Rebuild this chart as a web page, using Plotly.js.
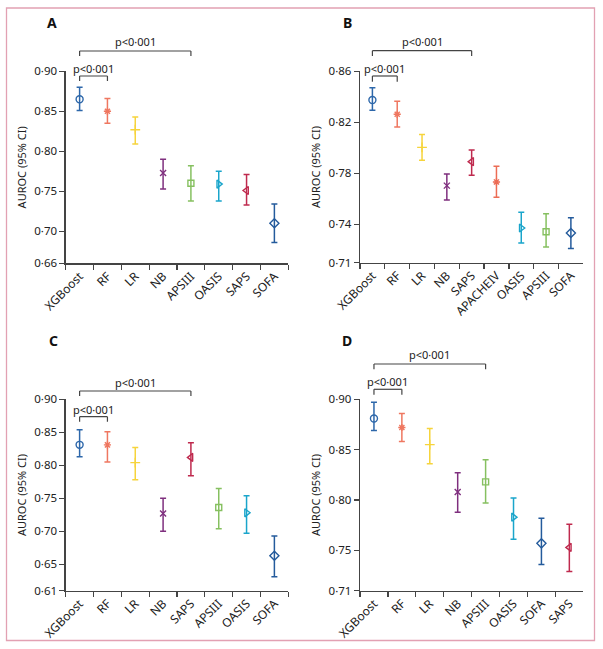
<!DOCTYPE html>
<html><head><meta charset="utf-8">
<script src="https://cdn.plot.ly/plotly-3.0.1.min.js"></script>
<style>html,body{margin:0;padding:0;background:#fff}</style>
</head><body><div id="chart" style="width:603px;height:649px"></div>
<script>
// ---------- DATA ----------
// Panel A
const catsA  = ['XGBoost','RF','LR','NB','APSIII','OASIS','SAPS','SOFA'];
const aucA   = [0.865,0.850,0.827,0.773,0.760,0.759,0.751,0.710];
const lowA   = [0.851,0.835,0.809,0.753,0.738,0.738,0.733,0.686];
const highA  = [0.880,0.866,0.843,0.790,0.782,0.775,0.771,0.734];
const ytickA = [0.66,0.70,0.75,0.80,0.85,0.90];
const compA  = [['XGBoost','RF','p<0·001'],['XGBoost','APSIII','p<0·001']];

// Panel B
const catsB  = ['XGBoost','RF','LR','NB','SAPS','APACHEIV','OASIS','APSIII','SOFA'];
const aucB   = [0.8375,0.8263,0.8004,0.7704,0.7892,0.7733,0.7372,0.7343,0.7333];
const lowB   = [0.8294,0.8164,0.7902,0.7591,0.7785,0.7612,0.7254,0.7223,0.7212];
const highB  = [0.8472,0.8365,0.8104,0.7795,0.7983,0.7855,0.7495,0.7484,0.7453];
const ytickB = [0.71,0.74,0.78,0.82,0.86];
const compB  = [['XGBoost','RF','p<0·001'],['XGBoost','SAPS','p<0·001']];

// Panel C
const catsC  = ['XGBoost','RF','LR','NB','SAPS','APSIII','OASIS','SOFA'];
const aucC   = [0.831,0.831,0.804,0.727,0.812,0.736,0.728,0.663];
const lowC   = [0.813,0.805,0.778,0.700,0.784,0.704,0.697,0.631];
const highC  = [0.854,0.851,0.827,0.750,0.834,0.765,0.754,0.693];
const ytickC = [0.61,0.65,0.70,0.75,0.80,0.85,0.90];
const compC  = [['XGBoost','RF','p<0·001'],['XGBoost','SAPS','p<0·001']];

// Panel D
const catsD  = ['XGBoost','RF','LR','NB','APSIII','OASIS','SOFA','SAPS'];
const aucD   = [0.881,0.872,0.855,0.808,0.818,0.783,0.757,0.753];
const lowD   = [0.869,0.858,0.836,0.788,0.797,0.761,0.736,0.729];
const highD  = [0.897,0.886,0.871,0.827,0.840,0.802,0.782,0.776];
const ytickD = [0.71,0.75,0.80,0.85,0.90];
const compD  = [['XGBoost','RF','p<0·001'],['XGBoost','APSIII','p<0·001']];

// ---------- STYLE ----------
const FONT = 'Noto Sans, Open Sans, DejaVu Sans, sans-serif';
const AX = '#444444';
const modelStyle = {
  XGBoost:  {color:'#2d67aa', symbol:'circle-open',        size:7},
  RF:       {color:'#ef7760', symbol:'asterisk-open',      size:6},
  LR:       {color:'#f6d43c', symbol:'cross-thin-open',    size:7},
  NB:       {color:'#7f2f7e', symbol:'x-thin-open',        size:6},
  APSIII:   {color:'#86c060', symbol:'square-open',        size:6},
  OASIS:    {color:'#1aa5cb', symbol:'triangle-right-open',size:7},
  SAPS:     {color:'#bf2a4e', symbol:'triangle-left-open', size:7},
  SOFA:     {color:'#245b9c', symbol:'diamond-open',       size:7},
  APACHEIV: {color:'#ec6c55', symbol:'asterisk-open',      size:6}
};

const W = 603, H = 649;
const px = v => v / W;
const py = v => 1 - v / H;

const panels = [
  {id:'',  letter:'A', cats:catsA, auc:aucA, low:lowA, high:highA, yt:ytickA, comp:compA,
   box:[65.7,288.3,71.3,263.3], letterPos:[52,23], brk:[[0.9755,0.9495,1.016],[1.1057,1.0797,1.154]]},
  {id:'2', letter:'B', cats:catsB, auc:aucB, low:lowB, high:highB, yt:ytickB, comp:compB,
   box:[360,583.3,71.3,262.7], letterPos:[347,23], brk:[[0.9755,0.9457,1.016],[1.1077,1.08,1.155]]},
  {id:'3', letter:'C', cats:catsC, auc:aucC, low:lowC, high:highC, yt:ytickC, comp:compC,
   box:[65.7,288.3,399.3,590.7], letterPos:[53,340], brk:[[0.909,0.883,0.948],[1.0434,1.017,1.090]]},
  {id:'4', letter:'D', cats:catsD, auc:aucD, low:lowD, high:highD, yt:ytickD, comp:compD,
   box:[360,583.3,399.3,590.7], letterPos:[347,340], brk:[[1.0523,1.024,1.094],[1.1844,1.1567,1.233]]}
];

const fmt = v => v.toFixed(2).replace('.', '·');

const traces = [];
const layout = {
  width: W, height: H,
  margin: {l:0, r:0, t:0, b:0},
  paper_bgcolor: '#ffffff', plot_bgcolor: '#ffffff',
  showlegend: false,
  font: {family: FONT, size: 11, color: '#222222'},
  shapes: [], annotations: []
};

panels.forEach(p => {
  const xa = 'x' + p.id, ya = 'y' + p.id;
  p.cats.forEach((c, i) => {
    const st = modelStyle[c];
    traces.push({
      type: 'scatter', mode: 'markers',
      x: [c], y: [p.auc[i]],
      xaxis: xa, yaxis: ya,
      marker: {color: st.color, symbol: st.symbol, size: st.size, line: {color: st.color, width: 1.4}},
      error_y: {type: 'data', symmetric: false,
                array: [p.high[i] - p.auc[i]], arrayminus: [p.auc[i] - p.low[i]],
                color: st.color, thickness: 1.5, width: 3},
      hoverinfo: 'x+y'
    });
  });
  const [x0, x1, yTop, yBot] = p.box;
  layout['xaxis' + p.id] = {
    domain: [px(x0), px(x1)], anchor: ya,
    type: 'category', categoryorder: 'array', categoryarray: p.cats,
    range: [-0.5, p.cats.length - 0.5],
    showline: true, linecolor: AX, linewidth: 1.3,
    ticks: 'outside', tickson: 'boundaries', ticklen: 5, tickcolor: AX, tickwidth: 1.3,
    tickangle: -45, tickfont: {family: FONT, size: 12, color: '#222'},
    showgrid: false, zeroline: false, fixedrange: true
  };
  layout['yaxis' + p.id] = {
    domain: [py(yBot), py(yTop)], anchor: xa,
    range: [p.yt[0], p.yt[p.yt.length - 1]],
    tickmode: 'array', tickvals: p.yt, ticktext: p.yt.map(fmt),
    showline: true, linecolor: AX, linewidth: 1.3,
    ticks: 'outside', ticklen: 5, tickcolor: AX, tickwidth: 1.3,
    tickfont: {family: FONT, size: 11.5, color: '#222'},
    title: {text: 'AUROC (95% CI)', font: {family: FONT, size: 11, color: '#222'}, standoff: 5},
    showgrid: false, zeroline: false, fixedrange: true
  };
  // panel letter
  layout.annotations.push({
    xref: 'paper', yref: 'paper', x: px(p.letterPos[0]), y: py(p.letterPos[1]),
    xanchor: 'center', yanchor: 'middle', showarrow: false,
    text: '<b>' + p.letter + '</b>', font: {family: FONT, size: 14, color: '#111'}
  });
  // comparison brackets
  p.comp.forEach((cmp, k) => {
    const i0 = p.cats.indexOf(cmp[0]), i1 = p.cats.indexOf(cmp[1]);
    const [yh, yd, yt] = p.brk[k];
    const base = {xref: xa, yref: ya + ' domain', line: {color: AX, width: 1.2}};
    layout.shapes.push(Object.assign({type: 'line', x0: i0, x1: i1, y0: yh, y1: yh}, base));
    layout.shapes.push(Object.assign({type: 'line', x0: i0, x1: i0, y0: yh, y1: yd}, base));
    layout.shapes.push(Object.assign({type: 'line', x0: i1, x1: i1, y0: yh, y1: yd}, base));
    layout.annotations.push({
      xref: xa, yref: ya + ' domain', x: (i0 + i1) / 2, y: yt,
      xanchor: 'center', yanchor: 'middle', showarrow: false,
      text: cmp[2], font: {family: FONT, size: 11, color: '#222'}
    });
  });
});

// outer pink frame
layout.shapes.push({type: 'rect', xref: 'paper', yref: 'paper',
  x0: px(6.5), x1: px(594.5), y0: py(640.5), y1: py(8),
  line: {color: '#e2a1b3', width: 1.3}, fillcolor: 'rgba(0,0,0,0)'});

Plotly.newPlot('chart', traces, layout, {displayModeBar: false, staticPlot: true});
</script>
</body></html>
